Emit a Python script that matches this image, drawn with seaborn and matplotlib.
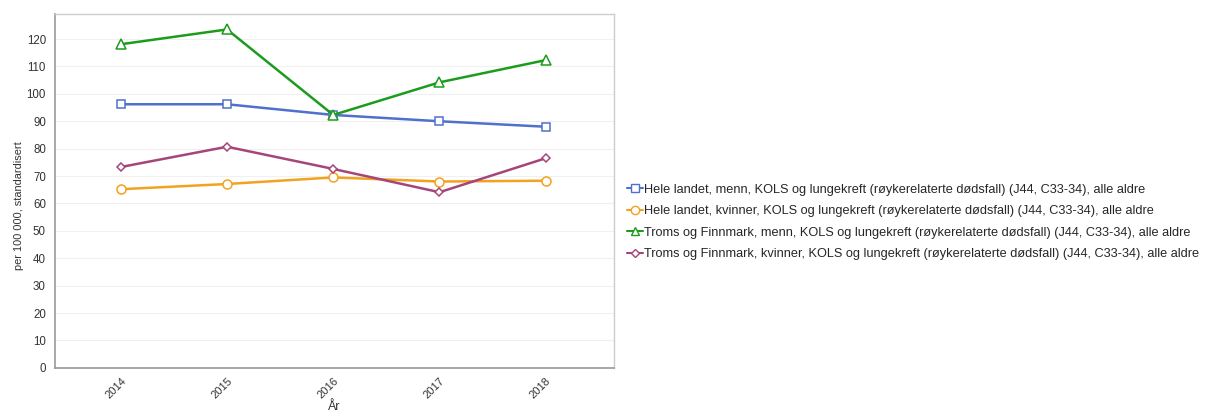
import matplotlib
matplotlib.use("Agg")
import matplotlib.pyplot as plt
import seaborn as sns
import pandas as pd
from matplotlib.lines import Line2D

years = ["2014", "2015", "2016", "2017", "2018"]
series_names = [
    "Hele landet, menn, KOLS og lungekreft (røykerelaterte dødsfall) (J44, C33-34), alle aldre",
    "Hele landet, kvinner, KOLS og lungekreft (røykerelaterte dødsfall) (J44, C33-34), alle aldre",
    "Troms og Finnmark, menn, KOLS og lungekreft (røykerelaterte dødsfall) (J44, C33-34), alle aldre",
    "Troms og Finnmark, kvinner, KOLS og lungekreft (røykerelaterte dødsfall) (J44, C33-34), alle aldre",
]
hele_menn = [96.2, 96.2, 92.3, 90.0, 88.0]
hele_kvinner = [65.2, 67.1, 69.5, 68.0, 68.3]
tf_menn = [118.1, 123.5, 92.3, 104.2, 112.3]
tf_kvinner = [73.3, 80.7, 72.6, 64.1, 76.5]
y_ticks = [0, 10, 20, 30, 40, 50, 60, 70, 80, 90, 100, 110, 120]

values = [hele_menn, hele_kvinner, tf_menn, tf_kvinner]
colors = ["#4f70cc", "#f2a21e", "#1c9c1c", "#a6457a"]
markers = ["s", "o", "^", "D"]
msizes = [6, 6.5, 6.5, 4.5]

rows = []
for name, vals in zip(series_names, values):
    for i, (yr, v) in enumerate(zip(years, vals)):
        rows.append({"series": name, "pos": i, "year": yr, "value": v})
df = pd.DataFrame(rows)

sns.set_style("white")
plt.rcParams["font.family"] = ["Liberation Sans", "DejaVu Sans"]

fig = plt.figure(figsize=(12.08, 4.19), dpi=100)
ax = fig.add_axes([0.0455, 0.122, 0.4625, 0.845])

for name, c, m, ms in zip(series_names, colors, markers, msizes):
    sub = df[df["series"] == name]
    sns.lineplot(data=sub, x="pos", y="value", ax=ax, color=c, linewidth=1.8,
                 marker=m, markersize=ms, markerfacecolor="white",
                 markeredgecolor=c, markeredgewidth=1.1, legend=False)

ax.set_xlim(-0.62, 4.64)
ax.set_ylim(0, 129.2)
ax.set_xticks(range(len(years)))
ax.set_xticklabels(years, rotation=45, ha="right", rotation_mode="anchor", fontsize=8, color="#333333")
ax.set_yticks(y_ticks)
ax.set_yticklabels([str(t) for t in y_ticks], fontsize=8.3, color="#333333")
ax.tick_params(axis="both", length=3, color="#888888", width=0.8)
ax.tick_params(axis="x", pad=3)
ax.grid(axis="y", color="#f0f0f0", linewidth=0.8)
ax.set_axisbelow(True)
for s in ["left", "bottom"]:
    ax.spines[s].set_color("#999999")
    ax.spines[s].set_linewidth(1.2)
for s in ["top", "right"]:
    ax.spines[s].set_color("#cccccc")
    ax.spines[s].set_linewidth(1)
ax.set_xlabel("År", fontsize=9, color="#333333", labelpad=0)
ax.set_ylabel("per 100 000, standardisert", fontsize=7.9, color="#333333")
ax.yaxis.set_label_coords(-0.056, 0.458)

handles = [Line2D([0], [0], color=c, marker=m, markersize=ms - 0.5, markerfacecolor="white",
                  markeredgecolor=c, linewidth=1.5) for c, m, ms in zip(colors, markers, msizes)]
fig.legend(handles, series_names, loc="center left", bbox_to_anchor=(0.515, 0.47),
           frameon=False, fontsize=9.2, handlelength=1.2, handletextpad=0.15,
           labelspacing=0.74, borderaxespad=0)

fig.savefig("out.png", dpi=100)
